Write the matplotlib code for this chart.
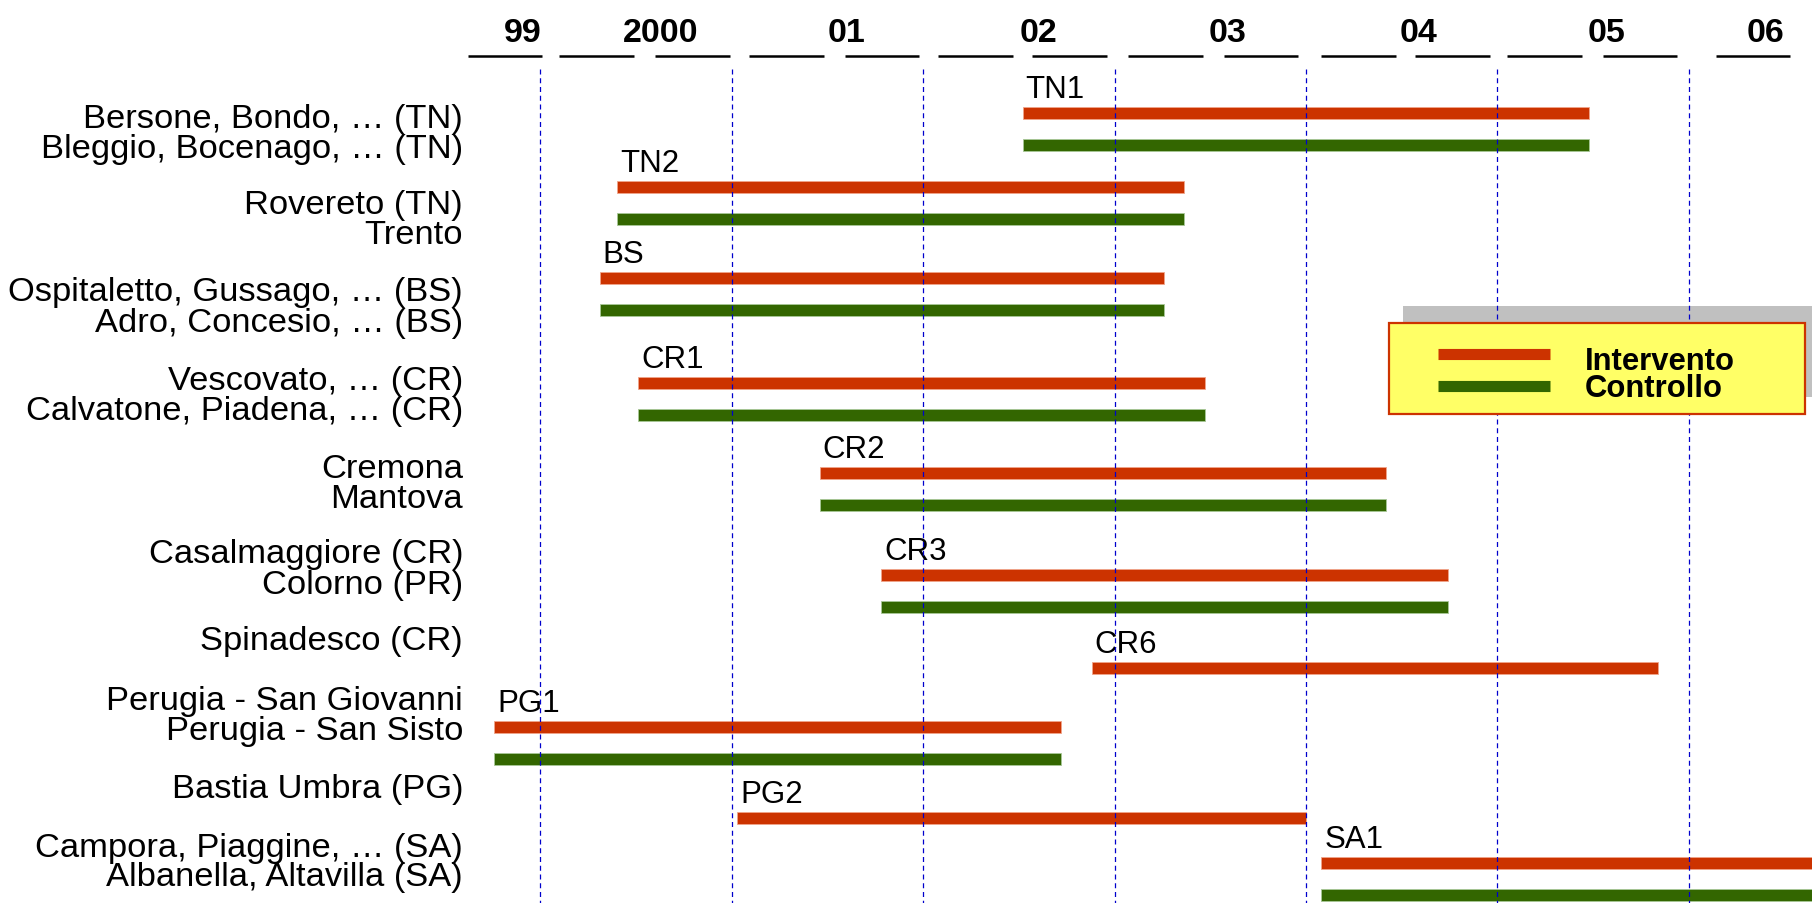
import matplotlib
matplotlib.use('Agg')
import matplotlib.pyplot as plt
from matplotlib import font_manager
from matplotlib.patches import Rectangle

# studies: intervention periods (fractional years)
studies = ['TN1', 'TN2', 'BS', 'CR1', 'CR2', 'CR3', 'CR6', 'PG1', 'PG2', 'SA1']
start = [2002.52, 2000.40, 2000.31, 2000.51, 2001.46, 2001.78, 2002.88, 1999.76, 2001.03, 2004.08]
end = [2005.48, 2003.36, 2003.26, 2003.47, 2004.42, 2004.74, 2005.84, 2002.72, 2004.00, 2007.04]
has_control = [True, True, True, True, True, True, False, True, False, True]

places = ['Bersone, Bondo, … (TN)', 'Bleggio, Bocenago, … (TN)',
          'Rovereto (TN)', 'Trento',
          'Ospitaletto, Gussago, … (BS)', 'Adro, Concesio, … (BS)',
          'Vescovato, … (CR)', 'Calvatone, Piadena, … (CR)',
          'Cremona', 'Mantova',
          'Casalmaggiore (CR)', 'Colorno (PR)',
          'Spinadesco (CR)',
          'Perugia - San Giovanni', 'Perugia - San Sisto',
          'Bastia Umbra (PG)',
          'Campora, Piaggine, … (SA)', 'Albanella, Altavilla (SA)']

year_labels = ['99', '2000', '01', '02', '03', '04', '05', '06']
year_label_x = [1999.91, 2000.63, 2001.60, 2002.60, 2003.59, 2004.59, 2005.57, 2006.40]
semester_start = [1999.62, 2000.10, 2000.60, 2001.09, 2001.59, 2002.08, 2002.57,
                  2003.07, 2003.57, 2004.08, 2004.57, 2005.05, 2005.55, 2006.14]
year_lines = [2000, 2001, 2002, 2003, 2004, 2005, 2006]

# layout (pixel rows, y axis runs top->bottom)
W, H = 1812, 904
PX2000 = 540.3       # pixel column of 2000
PX_YEAR = 191.43     # pixels per year
bar_y = [114, 188, 279, 384, 474, 576, 669, 728, 819, 864]
ctrl_gap = 31.5
place_y = [116, 146, 202, 232, 289, 320, 378, 408, 466, 496, 551, 582,
           638, 698, 728, 786, 845, 874]

RED = '#CC3300'
GREEN = '#336600'

names = {f.name for f in font_manager.fontManager.ttflist}
narrow = 'Liberation Sans Narrow' in names
year_font = 'Liberation Sans Narrow' if narrow else 'Liberation Sans'
year_size = 27 if narrow else 24.5
plt.rcParams['font.family'] = ['Liberation Sans', 'DejaVu Sans']


def px(x):
    # pixel column -> year
    return 2000 + (x - PX2000) / PX_YEAR


fig = plt.figure(figsize=(W / 100, H / 100), dpi=100)
ax = fig.add_axes([0, 0, 1, 1])
ax.set_xlim(px(0), px(W))
ax.set_ylim(H, 0)
ax.axis('off')

# intervention / control bars
for tag, s, e, y, ctrl in zip(studies, start, end, bar_y, has_control):
    ax.barh(y, e - s, left=s, height=12, color=RED, edgecolor='#F0A58A',
            linewidth=0.6, zorder=2)
    if ctrl:
        ax.barh(y + ctrl_gap, e - s, left=s, height=12, color=GREEN,
                edgecolor='#A8C898', linewidth=0.6, zorder=2)
    ax.text(s + 3 / PX_YEAR, y - 15.5, tag, fontsize=22.5, ha='left',
            va='baseline', zorder=3)

# year grid
ax.vlines(year_lines, 70, H, colors='#0000CC', linestyles=(0, (4, 3)),
          linewidth=0.9, zorder=3.5)

# header: semester segments + year labels
ax.hlines([57] * len(semester_start), semester_start,
          [s + 0.39 for s in semester_start], colors='black', linewidth=1.8)
for lab, x in zip(year_labels, year_label_x):
    ax.text(x, 42, lab, fontsize=year_size, fontweight='bold', family=year_font,
            ha='center', va='baseline')

# place names
for name, y in zip(places, place_y):
    ax.text(px(463), y + 12, name, fontsize=24.8, ha='right', va='baseline')

# legend box with shadow
ax.add_patch(Rectangle((px(1403), 307), 416 / PX_YEAR, 91, facecolor='#C0C0C0',
                       edgecolor='none', zorder=2))
ax.add_patch(Rectangle((px(1389), 324), 416 / PX_YEAR, 91, facecolor='#FFFF66',
                       edgecolor=RED, linewidth=1.6, zorder=4))
ax.hlines([355, 387], px(1438), px(1550), colors=[RED, GREEN], linewidth=8,
          zorder=5)
ax.text(px(1585), 370, 'Intervento', fontsize=22.3, fontweight='bold',
        va='baseline', zorder=5)
ax.text(px(1585), 397, 'Controllo', fontsize=22.3, fontweight='bold',
        va='baseline', zorder=5)

fig.savefig('out.png', dpi=100)
